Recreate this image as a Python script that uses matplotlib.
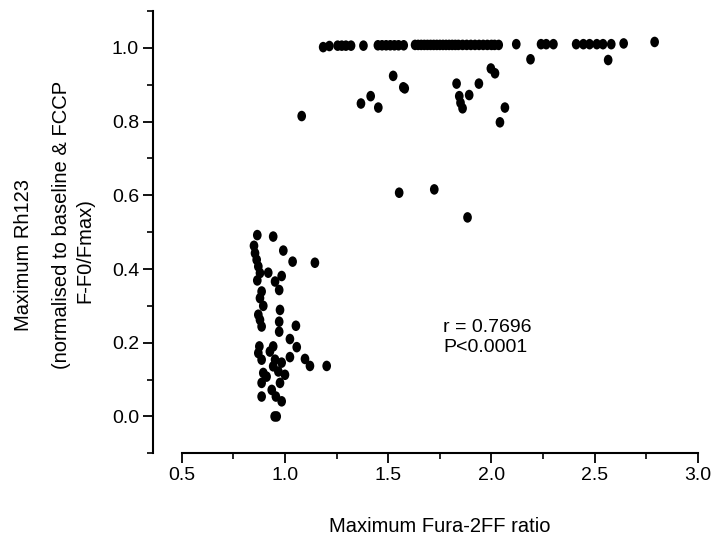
import matplotlib
matplotlib.use("Agg")
import matplotlib.pyplot as plt
from matplotlib.ticker import FixedLocator
from matplotlib.path import Path
from matplotlib.transforms import Affine2D

plt.rcParams['font.family'] = ['Liberation Sans', 'DejaVu Sans']

# ---- data: maximum Fura-2FF ratio (x) vs maximum Rh123 (y) ----
low_x = [0.866, 0.943, 0.850, 0.855, 0.992, 0.863, 1.037, 1.145, 0.871, 0.919,
         0.879, 0.984, 0.952, 0.866, 0.887, 0.972, 0.879, 0.895, 0.976, 0.871,
         0.879, 0.887, 0.972, 0.972, 1.053, 1.024, 0.876, 0.943, 1.057, 0.871,
         0.927, 0.887, 1.024, 1.097, 0.952, 0.984, 1.121, 1.202, 0.895, 0.943,
         0.968, 1.000, 0.911, 0.887, 0.976, 0.936, 0.887, 0.984, 0.956, 0.960,
         0.950]
low_y = [0.492, 0.488, 0.463, 0.443, 0.450, 0.425, 0.420, 0.417, 0.407, 0.390,
         0.389, 0.381, 0.366, 0.369, 0.339, 0.343, 0.321, 0.300, 0.289, 0.276,
         0.262, 0.244, 0.257, 0.230, 0.246, 0.210, 0.190, 0.190, 0.188, 0.172,
         0.176, 0.154, 0.161, 0.156, 0.154, 0.146, 0.137, 0.137, 0.118, 0.136,
         0.122, 0.113, 0.108, 0.091, 0.091, 0.072, 0.054, 0.041, 0.054, 0.000,
         0.000]

top_x = [1.185, 1.215, 1.255, 1.275, 1.295, 1.320, 1.380, 1.450, 1.470, 1.490,
         1.510, 1.530, 1.550, 1.575, 1.630, 1.645, 1.660, 1.675, 1.690, 1.705,
         1.720, 1.735, 1.750, 1.765, 1.780, 1.795, 1.810, 1.825, 1.840, 1.860,
         1.880, 1.900, 1.920, 1.940, 1.960, 1.980, 2.000, 2.015, 2.035, 2.120,
         2.240, 2.265, 2.300, 2.410, 2.445, 2.475, 2.510, 2.540, 2.580, 2.640,
         2.790]
top_y = [1.002, 1.005, 1.006, 1.006, 1.006, 1.006, 1.006, 1.007, 1.007, 1.007,
         1.007, 1.007, 1.007, 1.007, 1.008, 1.008, 1.008, 1.008, 1.008, 1.008,
         1.008, 1.008, 1.008, 1.008, 1.008, 1.008, 1.008, 1.008, 1.008, 1.008,
         1.008, 1.008, 1.008, 1.008, 1.008, 1.008, 1.008, 1.008, 1.008, 1.010,
         1.010, 1.010, 1.010, 1.010, 1.010, 1.010, 1.010, 1.010, 1.010, 1.012,
         1.016]

mid_x = [1.081, 1.368, 1.415, 1.452, 1.524, 1.573, 1.580, 1.831, 1.844, 1.850,
         1.860, 1.892, 1.939, 1.997, 2.017, 2.065, 2.041, 2.189, 2.565, 1.553,
         1.723, 1.884]
mid_y = [0.815, 0.849, 0.869, 0.838, 0.924, 0.893, 0.890, 0.903, 0.869, 0.851,
         0.836, 0.872, 0.903, 0.944, 0.931, 0.838, 0.798, 0.969, 0.967, 0.607,
         0.616, 0.540]

x_all = low_x + top_x + mid_x
y_all = low_y + top_y + mid_y

x_ticks = [0.5, 1.0, 1.5, 2.0, 2.5, 3.0]
y_ticks = [0.0, 0.2, 0.4, 0.6, 0.8, 1.0]
stat_text = ["r = 0.7696", "P<0.0001"]

FS = 14
FS_LABEL = 14.5

fig = plt.figure(figsize=(7.23, 5.41), dpi=100)
ax = fig.add_axes([153/723, 1 - 453.3/541, (698 - 153)/723, (453.3 - 11)/541])

marker = Path.unit_circle().transformed(Affine2D().scale(0.82, 1.0))
ax.scatter(x_all, y_all, s=58, marker=marker, color='black', edgecolors='none', zorder=3)

ax.set_xlim(0.361, 3.0)
ax.set_ylim(-0.1, 1.1)

for s in ['top', 'right']:
    ax.spines[s].set_visible(False)
for s in ['left', 'bottom']:
    ax.spines[s].set_linewidth(1.5)
ax.spines['bottom'].set_bounds(0.5, 3.0)

ax.xaxis.set_major_locator(FixedLocator(x_ticks))
ax.xaxis.set_minor_locator(FixedLocator([0.75, 1.25, 1.75, 2.25, 2.75]))
ax.yaxis.set_major_locator(FixedLocator(y_ticks))
ax.yaxis.set_minor_locator(FixedLocator([-0.1, 0.1, 0.3, 0.5, 0.7, 0.9, 1.1]))
ax.set_xticklabels([f"{v:.1f}" for v in x_ticks])
ax.set_yticklabels([f"{v:.1f}" for v in y_ticks])

ax.tick_params(axis='both', which='major', direction='out', length=7, width=1.3,
               labelsize=FS, pad=3)
ax.tick_params(axis='both', which='minor', direction='out', length=4, width=1.2)

# axis labels
fig.text(440/723, 1 - 531.7/541, "Maximum Fura-2FF ratio", ha='center', va='baseline',
         fontsize=FS_LABEL)
fig.text(24/723, 1 - 255/541, "Maximum Rh123", rotation=90, ha='center', va='center',
         fontsize=FS_LABEL)
fig.text(62/723, 1 - 225/541, "(normalised to baseline & FCCP", rotation=90,
         ha='center', va='center', fontsize=FS_LABEL)
fig.text(85/723, 1 - 251/541, "F-F0/Fmax)", rotation=90, ha='center', va='center',
         fontsize=FS_LABEL)

# statistics annotation
ax.text(1.766, 0.230, stat_text[0], ha='left', va='baseline', fontsize=FS)
ax.text(1.766, 0.176, stat_text[1], ha='left', va='baseline', fontsize=FS)

fig.savefig("out.png", dpi=100)
